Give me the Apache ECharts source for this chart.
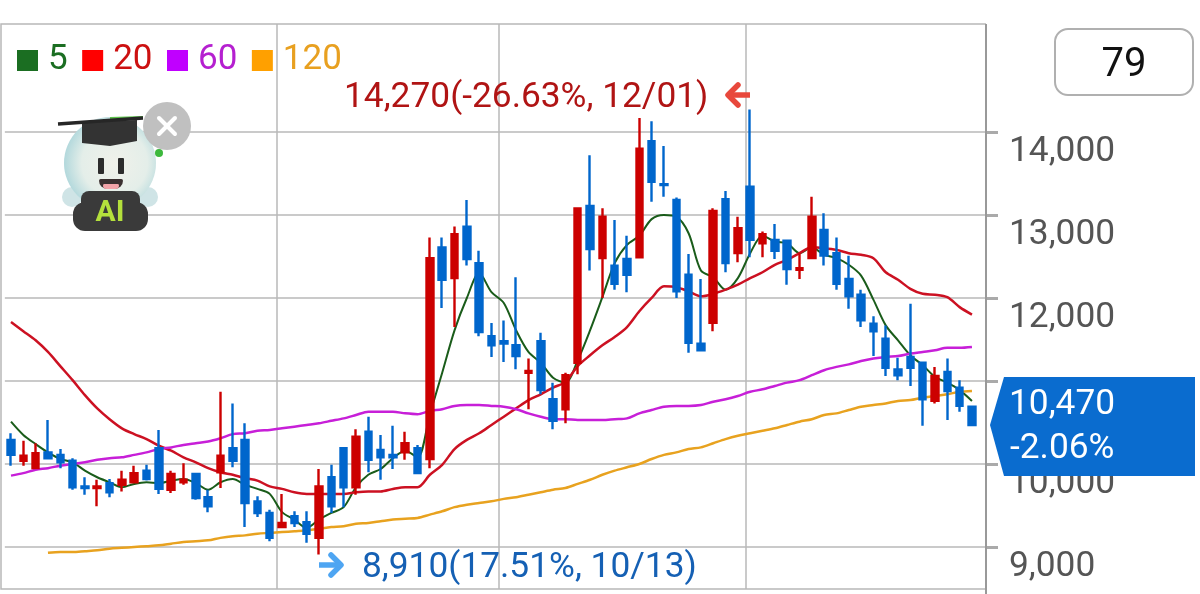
<!DOCTYPE html>
<html>
<head>
    <meta charset="utf-8">
    <title>chart</title>
    <script src="https://cdn.jsdelivr.net/npm/echarts@6/dist/echarts.min.js"></script>
    <style type="text/css">
        html,body{
            margin: 0;
            background: #fff;
        }
        #main{
            width: 1200px;
            height: 594px;
        }
    </style>
</head>
<body>
<div id="main"></div>
<script>
    // [open, close, low, high]
    var candles = [
        [10290,10110,9980,10370],[10040,10100,9980,10280],[9950,10130,9950,10250],[10140,10070,10060,10530],
        [10110,10020,9950,10180],[10040,9720,9690,10070],[9730,9710,9630,9840],[9710,9730,9490,9810],
        [9770,9660,9600,9820],[9750,9810,9670,9920],[9780,9890,9770,9980],[9920,9820,9800,9990],
        [10190,9700,9640,10410],[9690,9880,9650,9920],[9780,9810,9750,10010],[9880,9590,9570,9890],
        [9600,9490,9420,9690],[9900,10100,9710,10870],[10190,10040,9960,10730],[10290,9530,9240,10490],
        [9550,9410,9360,9610],[9410,9110,9070,9450],[9240,9290,9230,9640],[9370,9290,9240,9430],
        [9300,9160,9050,9430],[9110,9730,8910,9940],[9840,9490,9410,9990],[10190,9720,9480,10200],
        [9720,10330,9630,10420],[10390,10050,9900,10570],[10170,10080,9810,10350],[10110,10080,9940,10460],
        [10140,10250,10050,10390],[10190,9890,9890,10230],[10060,12480,9950,12730],[12610,12220,11880,12730],
        [12240,12770,11650,12860],[12860,12470,12390,13180],[12420,11590,11540,12570],[11540,11430,11290,11700],
        [11480,11450,11230,11730],[11430,11300,11140,12250],[11100,11120,10660,11270],[11480,10890,10840,11580],
        [10780,10520,10420,10980],[10660,11070,10490,11100],[11220,13080,11080,13080],[13110,12590,12330,13720],
        [12480,12980,12000,13080],[12390,12170,12100,12940],[12470,12280,12070,12750],[12490,13800,12490,14170],
        [13890,13400,13160,14130],[13370,13360,13220,13830],[13180,12080,12000,13210],[12280,11460,11340,12530],
        [11450,11370,11360,12230],[11700,13050,11600,13080],[13190,12420,12310,13290],[12540,12840,12430,12980],
        [13340,12700,12490,14270],[12660,12770,12490,12800],[12700,12570,12470,12890],[12690,12350,12160,12700],
        [12340,12360,12230,12540],[12480,12980,12470,13220],[12820,12510,12390,13020],[12540,12170,12100,12730],
        [12230,12020,11870,12510],[12040,11730,11650,12100],[11690,11600,11300,11780],[11510,11160,11060,11670],
        [11140,11070,11010,11280],[11290,11160,10940,11930],[11220,10780,10460,11230],[10760,11060,10730,11170],
        [11110,10880,10530,11270],[10920,10700,10630,11010],[10690,10470,10460,10690]
    ];
    var ma5 = [
        10510,10350,10240,10140,10060,10020,9920,9840,9780,9720,
        9760,9780,9770,9800,9820,9770,9690,9780,9820,9750,
        9700,9640,9420,9330,9230,9330,9410,9480,9720,9870,
        9940,10070,10160,10080,10600,11100,11610,12000,12300,12070,
        11940,11610,11350,11220,11040,10980,11250,11610,12010,12420,
        12640,12750,12950,13000,12980,12780,12330,12250,12100,12240,
        12540,12750,12680,12660,12540,12610,12520,12480,12400,12270,
        11980,11670,11490,11310,11190,11050,10980,10890,10760
    ];
    var ma20 = [
        11710,11600,11490,11350,11180,11010,10830,10670,10540,10430,
        10360,10300,10220,10160,10080,10020,9950,9900,9870,9830,
        9800,9730,9700,9660,9640,9640,9640,9640,9660,9670,
        9670,9700,9720,9720,9870,9990,10180,10290,10370,10470,
        10570,10670,10770,10840,10920,10990,11180,11310,11430,11530,
        11650,11840,12000,12140,12130,12080,12020,12050,12100,12160,
        12240,12310,12400,12460,12540,12610,12600,12580,12540,12520,
        12480,12310,12220,12110,12050,12040,12010,11890,11800
    ];
    var ma60 = [
        9860,9890,9930,9950,9980,10000,10020,10050,10070,10080,
        10110,10140,10180,10200,10230,10250,10270,10310,10360,10370,
        10400,10410,10430,10450,10470,10490,10520,10550,10590,10630,
        10630,10630,10610,10600,10640,10660,10700,10710,10710,10700,
        10690,10660,10610,10570,10540,10540,10530,10530,10530,10540,
        10550,10610,10650,10690,10700,10700,10710,10750,10780,10820,
        10870,10900,10940,10980,11010,11070,11130,11170,11200,11240,
        11270,11290,11300,11330,11350,11370,11400,11400,11410
    ];
    var ma120 = [
        null,null,null,8930,8940,8940,8950,8960,8980,8990,
        9000,9010,9020,9040,9060,9070,9080,9110,9130,9140,
        9160,9170,9180,9190,9200,9220,9240,9250,9280,9290,
        9310,9330,9340,9350,9390,9430,9480,9510,9530,9550,
        9580,9600,9630,9660,9690,9710,9760,9810,9870,9920,
        9960,10000,10060,10110,10140,10180,10200,10250,10300,10340,
        10370,10400,10430,10470,10510,10540,10590,10610,10650,10690,
        10710,10730,10760,10770,10800,10820,10840,10870,10880
    ];
    var priceTicks = [9000,10000,11000,12000,13000,14000];
    var monthLines = [21.6,39.6,59.6];

    var maNames = ['5','20','60','120'];
    var maLegendColors = ['#1b6e22','#ff0000','#c000ff','#ffa000'];
    var maTextColors = ['#1b6e22','#cc1111','#b520d0','#e8a020'];
    var maLineColors = ['#1a5c1a','#cc1122','#c71fd8','#e8a21f'];
    var maWidths = [2,2.5,2.5,2.5];
    var maValues = [ma5,ma20,ma60,ma120];

    function pairs(list) {
        return list.map(function (v, i) { return [i, v]; });
    }

    var gridColor = '#b8b8b8';
    var font = '35.3px Roboto';

    var series = maNames.map(function (name, k) {
        return {
            name: name,
            type: 'line',
            z: 2,
            data: pairs(maValues[k]),
            showSymbol: false,
            smooth: 0.3,
            silent: true,
            color: maLineColors[k],
            lineStyle: {color: maLineColors[k], width: maWidths[k]}
        };
    });
    series.push({
        type: 'candlestick',
        z: 3,
        barWidth: 7,
        data: candles.map(function (c, i) { return [i, c[0], c[1], c[2], c[3]]; }),
        itemStyle: {
            color: '#cc0000',
            color0: '#0066cc',
            borderColor: '#cc0000',
            borderColor0: '#0066cc',
            borderWidth: 2.4
        }
    });

    var graphics = [
        // frame
        {type: 'polyline', z: 1, shape: {points: [[985,589],[1,589],[1,24],[986,24]]}, style: {stroke: gridColor, lineWidth: 1.5, fill: null}},
        {type: 'line', z: 50, shape: {x1: 986, y1: 24, x2: 986, y2: 594}, style: {stroke: '#999', lineWidth: 2}},
        // high and low notes
        {type: 'text', z: 60, style: {x: 344, y: 98, text: '14,270(-26.63%, 12/01)', font: font, fill: '#b01414', textVerticalAlign: 'middle'}},
        {type: 'polyline', z: 60, shape: {points: [[738,85],[728,95],[738,105]]}, style: {stroke: '#e8483c', lineWidth: 5.5, fill: null, lineJoin: 'round', lineCap: 'round'}},
        {type: 'line', z: 60, shape: {x1: 729, y1: 95, x2: 750, y2: 95}, style: {stroke: '#e8483c', lineWidth: 5.5}},
        {type: 'text', z: 60, style: {x: 362, y: 568, text: '8,910(17.51%, 10/13)', font: font, fill: '#1560b4', textVerticalAlign: 'middle'}},
        {type: 'polyline', z: 60, shape: {points: [[331,555],[341,565],[331,575]]}, style: {stroke: '#4ea5f2', lineWidth: 5.5, fill: null, lineJoin: 'round', lineCap: 'round'}},
        {type: 'line', z: 60, shape: {x1: 319, y1: 565, x2: 340, y2: 565}, style: {stroke: '#4ea5f2', lineWidth: 5.5}},
        // count box
        {type: 'rect', z: 60, shape: {x: 1055, y: 29, width: 138, height: 66, r: 13}, style: {stroke: '#b0b0b0', lineWidth: 2, fill: '#fff'}},
        {type: 'text', z: 61, style: {x: 1124, y: 66, text: '79', font: '40px Roboto', fill: '#111', textAlign: 'center', textVerticalAlign: 'middle'}},
        // last price tag
        {type: 'polygon', z: 60, shape: {points: [[1004,377],[1195,377],[1195,476],[1004,476],[990,425]]}, style: {fill: '#0a6ccf'}},
        {type: 'text', z: 61, style: {x: 1009, y: 405, text: '10,470', font: font, fill: '#fff', textVerticalAlign: 'middle'}},
        {type: 'text', z: 61, style: {x: 1010, y: 449, text: '-2.06%', font: font, fill: '#fff', textVerticalAlign: 'middle'}},
        // AI mascot
        {type: 'circle', z: 70, shape: {cx: 72, cy: 197, r: 10}, style: {fill: '#cfe4e6'}},
        {type: 'circle', z: 70, shape: {cx: 148, cy: 197, r: 10}, style: {fill: '#cfe4e6'}},
        {type: 'circle', z: 71, shape: {cx: 110, cy: 163, r: 46}, style: {fill: {type: 'radial', x: 0.55, y: 0.5, r: 0.55, colorStops: [{offset: 0, color: '#f0f1ea'}, {offset: 0.65, color: '#e4eee9'}, {offset: 1, color: '#b2d8dc'}]}}},
        {type: 'rect', z: 72, shape: {x: 98, y: 158, width: 6, height: 16, r: 1}, style: {fill: '#2c2c2c'}},
        {type: 'rect', z: 72, shape: {x: 118, y: 158, width: 6, height: 16, r: 1}, style: {fill: '#2c2c2c'}},
        {type: 'rect', z: 72, shape: {x: 99, y: 179, width: 24, height: 10, r: [2,2,10,10]}, style: {fill: '#3a3030'}},
        {type: 'rect', z: 73, shape: {x: 103, y: 184, width: 16, height: 5, r: [2,2,5,5]}, style: {fill: '#f2a3a8'}},
        {type: 'rect', z: 74, shape: {x: 81, y: 191, width: 59, height: 20, r: 8}, style: {fill: '#3a3a3a'}},
        {type: 'rect', z: 74, shape: {x: 73, y: 202, width: 75, height: 29, r: 12}, style: {fill: '#3a3a3a'}},
        {type: 'text', z: 75, style: {x: 110, y: 213, text: 'AI', font: 'bold 30px Roboto', fill: '#b4e03c', textAlign: 'center', textVerticalAlign: 'middle'}},
        {type: 'polygon', z: 76, shape: {points: [[82,122],[137,120],[137,141],[110,146],[82,143]]}, style: {fill: '#333'}},
        {type: 'line', z: 77, shape: {x1: 58, y1: 124, x2: 143, y2: 118}, style: {stroke: '#262626', lineWidth: 3.5}},
        {type: 'line', z: 76, shape: {x1: 110, y1: 118, x2: 143, y2: 117}, style: {stroke: '#5cc24a', lineWidth: 2}},
        {type: 'circle', z: 78, shape: {cx: 159, cy: 153, r: 4}, style: {fill: '#3cb83c'}},
        {type: 'circle', z: 79, shape: {cx: 167, cy: 126, r: 24}, style: {fill: '#c0c0c0'}},
        {type: 'line', z: 80, shape: {x1: 159, y1: 118, x2: 175, y2: 134}, style: {stroke: '#fff', lineWidth: 4, lineCap: 'round'}},
        {type: 'line', z: 80, shape: {x1: 175, y1: 118, x2: 159, y2: 134}, style: {stroke: '#fff', lineWidth: 4, lineCap: 'round'}}
    ];

    var myChart = echarts.init(document.getElementById('main'), null, {renderer: 'canvas'});
    var option = {
        animation: false,
        backgroundColor: '#fff',
        textStyle: {fontFamily: 'Roboto'},
        tooltip: {show: false},
        legend: {
            left: 12,
            top: 38,
            itemWidth: 21,
            itemHeight: 21,
            itemGap: 14.5,
            selectedMode: false,
            data: maNames.map(function (name, k) {
                return {
                    name: name,
                    icon: 'rect',
                    itemStyle: {color: maLegendColors[k]},
                    textStyle: {color: maTextColors[k], fontSize: 35, fontFamily: 'Roboto', padding: [0,0,8,5]}
                };
            })
        },
        grid: {left: 4.84, right: 214, top: 24, bottom: 5},
        xAxis: {
            type: 'value',
            min: -0.5,
            max: 79.14,
            axisLine: {show: false, onZero: false},
            axisLabel: {show: false},
            axisTick: {show: false, customValues: monthLines},
            splitLine: {show: true, lineStyle: {color: gridColor, width: 1.5}}
        },
        yAxis: {
            type: 'value',
            position: 'right',
            min: 8494,
            max: 15301,
            axisLine: {show: false, onZero: false},
            axisTick: {show: true, length: 12, customValues: priceTicks, lineStyle: {color: '#aaa', width: 3}},
            axisLabel: {
                customValues: priceTicks,
                margin: 23,
                fontSize: 35.3,
                lineHeight: 41,
                fontFamily: 'Roboto',
                color: '#555',
                verticalAlign: 'top'
            },
            splitLine: {show: true, lineStyle: {color: gridColor, width: 1.5}}
        },
        graphic: graphics,
        series: series
    };
    myChart.setOption(option);
</script>
</body>
</html>
